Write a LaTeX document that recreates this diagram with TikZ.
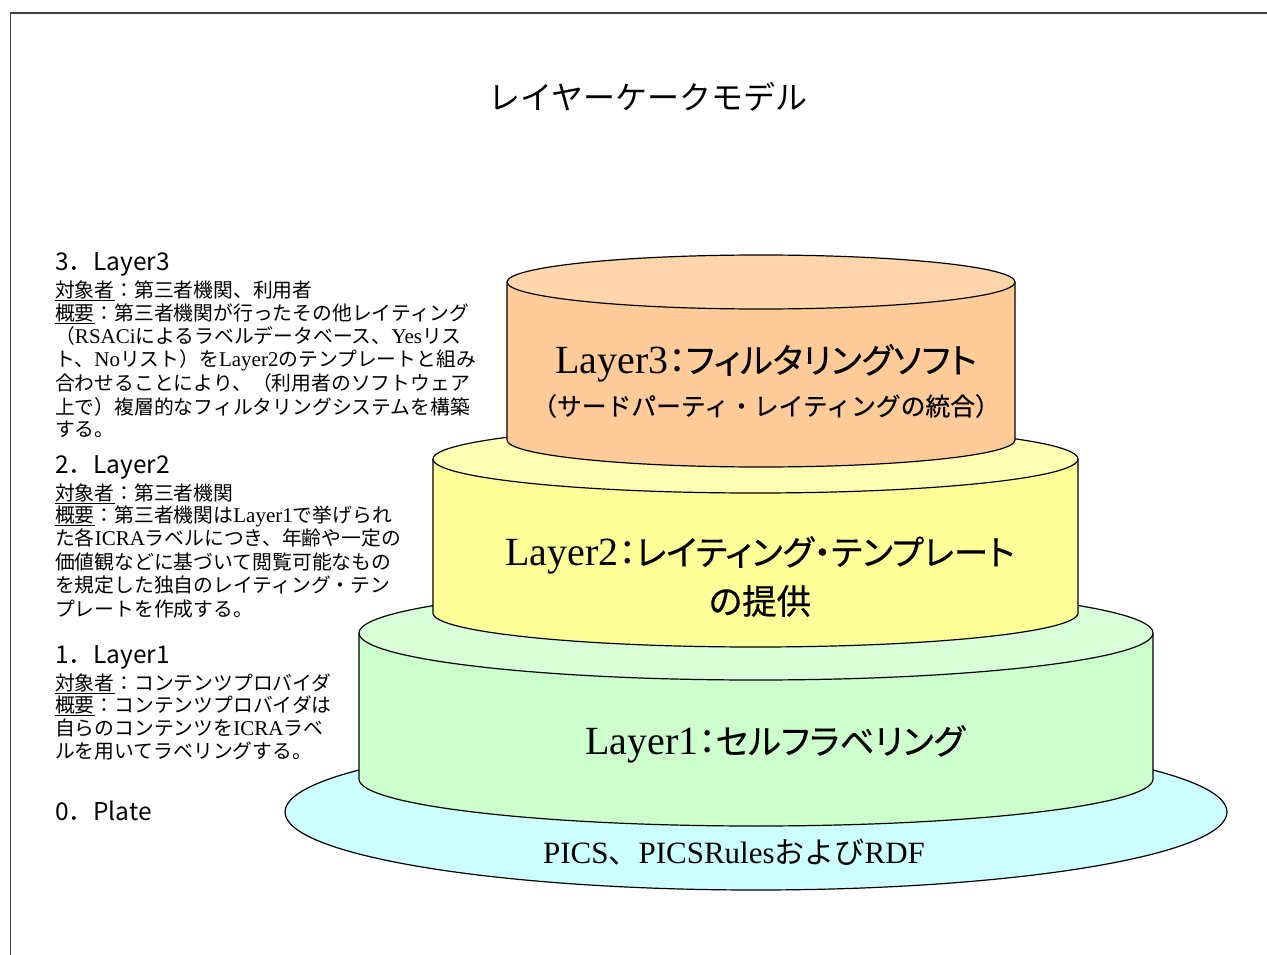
\documentclass[tikz,border=0pt]{standalone}
\usepackage{fontspec}
\setmainfont{Liberation Serif}
\newfontfamily\jp{Noto Sans CJK JP}
\newfontfamily\jpp[RawFeature=+palt, FakeBold=0.5]{Noto Sans CJK JP}
\newfontfamily\jpb[FakeBold=0.5]{Noto Sans CJK JP}
\newcommand\lat[1]{{\rmfamily\fontsize{21}{21}\selectfont #1}}
\newcommand\latS[2]{{\rmfamily\fontsize{#1}{#1}\selectfont #2}}
\definecolor{frameC}{HTML}{404040}
\definecolor{plateC}{HTML}{CCFFFF}
\definecolor{oneBody}{HTML}{CCFFCC}
\definecolor{oneTop}{HTML}{D8FFD8}
\definecolor{twoBody}{HTML}{FFFF99}
\definecolor{twoTop}{HTML}{FFFFB4}
\definecolor{threeBody}{HTML}{FFCC99}
\definecolor{threeTop}{HTML}{FFD6AC}
\newcommand\cake[7]{%
  \fill[#6] (#1-#4,#2) rectangle (#1+#4,#3);
  \fill[#6] (#1,#3) ellipse[x radius=#4pt, y radius=#5pt];
  \draw[outline] (#1-#4,#2) -- (#1-#4,#3) arc[start angle=180,end angle=360,x radius=#4pt,y radius=#5pt] -- (#1+#4,#2);
  \draw[outline, fill=#7] (#1,#2) ellipse[x radius=#4pt, y radius=#5pt];
}
\tikzset{
  outline/.style={draw=black, line width=1.2pt},
  desc/.style={anchor=base west, inner sep=0pt, font=\jp\fontsize{19.8}{20}\selectfont},
  head/.style={anchor=base west, inner sep=0pt, font=\jp\fontsize{24.5}{25}\selectfont},
  biglabel/.style={inner sep=0pt, font=\jpp\fontsize{34.5}{36}\selectfont},
}
\begin{document}
\begin{tikzpicture}[x=1pt,y=-1pt]
\useasboundingbox (0,0) rectangle (1267,955);
\fill[white] (0,0) rectangle (1267,955);
\draw[frameC, line width=1.6pt] (10.5,955) -- (10.5,13) -- (1267,13);

% title
\node[inner sep=0pt, font=\jp\fontsize{32}{34}\selectfont] (title) at (648,97) {レイヤーケークモデル};

% plate
\draw[outline, fill=plateC] (756,812) ellipse[x radius=471pt, y radius=78pt];
% layers
\cake{756}{633}{779}{397}{47}{oneBody}{oneTop}
\cake{755.5}{459}{613}{322.5}{34}{twoBody}{twoTop}
\cake{761}{282}{440}{254}{27}{threeBody}{threeTop}

% layer labels
\node[biglabel] (l3a) at (766,363) {\latS{40}{Layer3}：フィルタリングソフト};
\node[inner sep=0pt, font=\jpb\fontsize{24.8}{25}\selectfont] (l3b) at (766,406) {（サードパーティ・レイティングの統合）};
\node[biglabel] (l2a) at (760,555) {\latS{40}{Layer2}：レイティング・テンプレート};
\node[biglabel] (l2b) at (760,601) {の提供};
\node[biglabel] (l1a) at (775,744) {\latS{40}{Layer1}：セルフラベリング};
\node[inner sep=0pt, font=\jp\fontsize{30}{30}\selectfont] (plate) at (734,852) {\latS{31}{PICS}、\latS{31}{PICSRules}および\latS{31}{RDF}};

% left descriptions: Layer3
\node[head] (h3) at (55,270) {3．Layer3};
\node[desc] (t3a) at (55,297) {\underline{対象者}：第三者機関、利用者};
\node[desc] (t3b) at (55,320) {\underline{概要}：第三者機関が行ったその他レイティング};
\node[desc] (t3c) at (55,343) {（\lat{RSACi}によるラベルデータベース、\lat{Yes}リス};
\node[desc] (t3d) at (55,366) {ト、\lat{No}リスト）を\lat{Layer2}のテンプレートと組み};
\node[desc] (t3e) at (55,390) {合わせることにより、（利用者のソフトウェア};
\node[desc] (t3f) at (55,414) {上で）複層的なフィルタリングシステムを構築};
\node[desc] (t3g) at (55,436) {する。};

% Layer2
\node[head] (h2) at (55,473) {2．Layer2};
\node[desc] (t2a) at (55,500) {\underline{対象者}：第三者機関};
\node[desc] (t2b) at (55,522) {\underline{概要}：第三者機関は\lat{Layer1}で挙げられ};
\node[desc] (t2c) at (55,545) {た各\lat{ICRA}ラベルにつき、年齢や一定の};
\node[desc] (t2d) at (55,569) {価値観などに基づいて閲覧可能なもの};
\node[desc] (t2e) at (55,592) {を規定した独自のレイティング・テン};
\node[desc] (t2f) at (55,616) {プレートを作成する。};

% Layer1
\node[head] (h1) at (55,663) {1．Layer1};
\node[desc] (t1a) at (55,690) {\underline{対象者}：コンテンツプロバイダ};
\node[desc] (t1b) at (55,712) {\underline{概要}：コンテンツプロバイダは};
\node[desc] (t1c) at (55,735) {自らのコンテンツを\lat{ICRA}ラベ};
\node[desc] (t1d) at (55,758) {ルを用いてラベリングする。};

% Plate
\node[head] (h0) at (55,820) {0．Plate};
\end{tikzpicture}
\end{document}
